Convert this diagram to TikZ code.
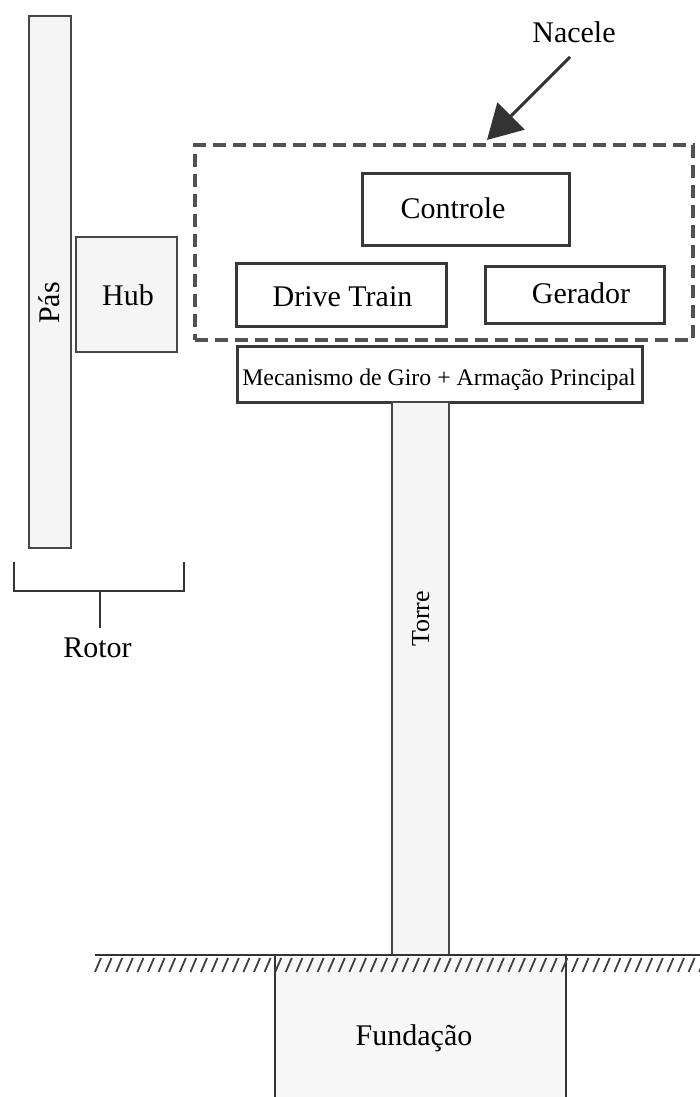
\documentclass[tikz,border=0pt]{standalone}
\usepackage{fontspec}
\setmainfont{Liberation Serif}
\usetikzlibrary{arrows.meta}
\begin{document}
\begin{tikzpicture}[x=1pt,y=-1pt,
  part/.style={draw=black!72, line width=2.8pt, fill=black!4, inner sep=0pt, outer sep=0pt},
  box/.style={draw=black!78, line width=3pt, fill=white, inner sep=0pt, outer sep=0pt},
  nacbox/.style={draw=black!68, line width=3.2pt, dash pattern=on 13pt off 7pt, inner sep=0pt, outer sep=0pt},
  lbl/.style={font=\fontsize{30}{30}\selectfont, inner sep=0pt, anchor=base},
  thin/.style={draw=black!80, line width=1.8pt},
  hatch/.style={draw=black!75, line width=1.8pt},
]
\useasboundingbox (0,0) rectangle (700,1097);
\fill[white] (0,0) rectangle (700,1097);

% rotor
\node[part, minimum width=42pt, minimum height=532pt] (blade) at (50,282) {};
\node[part, minimum width=101pt, minimum height=115pt] (hub) at (126.5,294.5) {};
\node[lbl, rotate=90] (pasl) at (59,303) {Pás};
\node[lbl] (hubl) at (128,305) {Hub};

% rotor bracket
\coordinate (brL) at (14,562);
\coordinate (brR) at (184,562);
\coordinate (brM) at (100,591);
\coordinate (brS) at (100,628);
\draw[thin] (brL) -- (brL |- brM) -- (brR |- brM) -- (brR);
\draw[thin] (brM) -- (brS);
\node[lbl] (rotorl) at (97.5,657) {Rotor};

% nacelle
\node[nacbox, minimum width=498pt, minimum height=195pt] (nacelle) at (444,242.5) {};
\node[box, minimum width=207pt, minimum height=72pt] (controle) at (465.5,209) {};
\node[box, minimum width=210pt, minimum height=63pt] (drive) at (341,294.5) {};
\node[box, minimum width=179pt, minimum height=57pt] (gerador) at (574.5,294.5) {};
\node[lbl] (controlel) at (453,218) {Controle};
\node[lbl] (drivel) at (342.5,306) {Drive Train};
\node[lbl] (geradorl) at (581,303) {Gerador};

\node[lbl] (nacelel) at (574,43) {Nacele};
\coordinate (astart) at (570,57);
\coordinate (atip) at (487,140);
\draw[line width=3pt, black!80, -{Triangle[length=34pt,width=38pt]}] (astart) -- (atip);

% yaw + main frame
\node[box, minimum width=405pt, minimum height=56pt] (yaw) at (439.5,374) {};
\node[lbl, font=\fontsize{23.8}{23.8}\selectfont] (yawl) at (439,385) {Mecanismo de Giro + Armação Principal};

% tower
\node[part, minimum width=57pt, minimum height=553pt] (tower) at (420.5,678.5) {};
\node[lbl, rotate=90, font=\fontsize{26}{26}\selectfont] (torrel) at (429,619) {Torre};

% foundation
\fill[black!3] (275,955) rectangle (566,1097);
\draw[thin, line width=2.4pt] (275,955) -- (275,1097);
\draw[thin, line width=2.4pt] (566,955) -- (566,1097);
\node[lbl] (fundl) at (414,1045) {Fundação};

% ground
\draw[draw=black!80, line width=2.4pt] (95,955) -- (700,955);
\foreach \x in {95,105.6,...,700} {
  \draw[hatch] (\x,972) -- (\x+6,958);
}
\end{tikzpicture}
\end{document}
